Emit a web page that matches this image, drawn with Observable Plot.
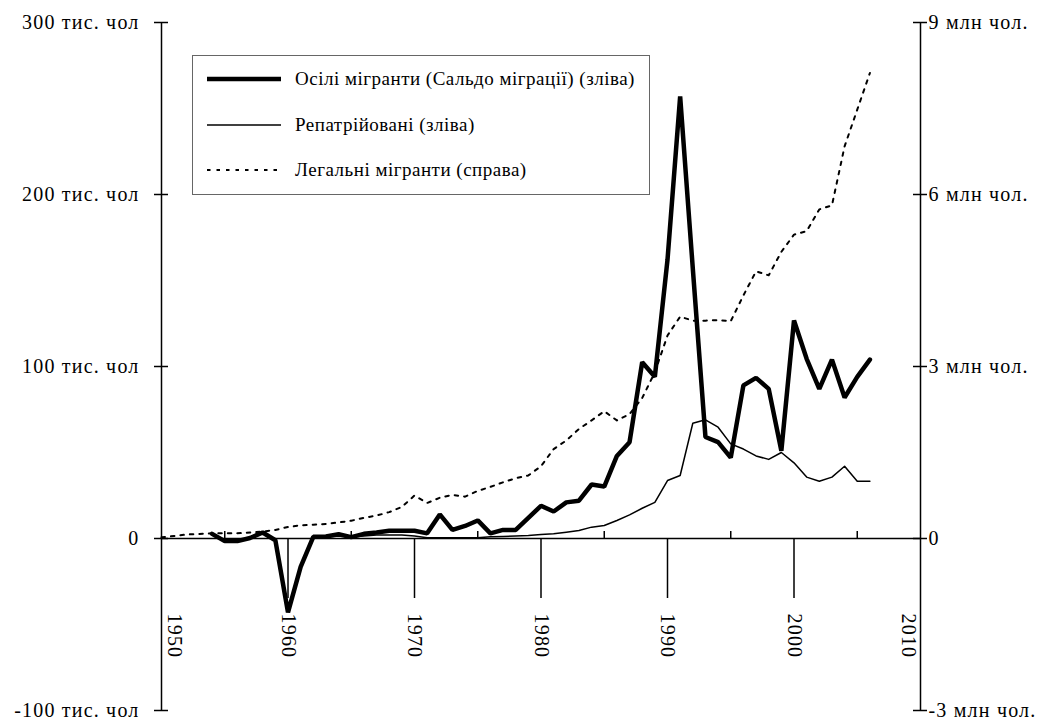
<!DOCTYPE html>
<html>
<head>
<meta charset="utf-8">
<script src="https://cdn.jsdelivr.net/npm/d3@7"></script>
<script src="https://cdn.jsdelivr.net/npm/@observablehq/plot@0.6"></script>
<style>
  body { margin: 0; background: #fff; }
  #wrap { position: relative; width: 1047px; height: 720px; }
  #wrap > svg text { letter-spacing: 1.2px; }
  #legend { position: absolute; left: 192px; top: 55px; width: 458px; height: 140px; border: 1px solid #666; background: #fff; box-sizing: border-box; }
  .row { position: absolute; left: 0; width: 100%; height: 24px; }
  .row svg { position: absolute; left: 13px; top: 0; }
  .row span { position: absolute; left: 102px; top: 0; line-height: 24px; font-size: 19px; letter-spacing: 0.5px; color: #000; white-space: nowrap; font-family: "Liberation Serif", "Times New Roman", serif; }
</style>
</head>
<body>
<div id="wrap"></div>
<script>
// ---- data ----
const years = [1950,1951,1952,1953,1954,1955,1956,1957,1958,1959,
  1960,1961,1962,1963,1964,1965,1966,1967,1968,1969,
  1970,1971,1972,1973,1974,1975,1976,1977,1978,1979,
  1980,1981,1982,1983,1984,1985,1986,1987,1988,1989,
  1990,1991,1992,1993,1994,1995,1996,1997,1998,1999,
  2000,2001,2002,2003,2004,2005,2006];

// Осілі мігранти (сальдо міграції), тис. чол (ліва вісь)
const settled = [null,null,null,null,2.7,-1.5,-1.5,0.3,3.5,-1,
  -43,-16.5,1,1.2,2.5,0.8,2.7,3.5,4.5,4.5,
  4.5,3,14,5,7.3,10.5,3,5,5,12,
  19,15.7,21,22,31.4,30.2,48,56,102.5,94,
  162,257,157,59,56,47,89,93.4,87,51,
  126.7,104.5,87,104,82,94,104];

// Репатрійовані, тис. чол (ліва вісь)
const repatriated = [null,null,null,null,null,null,null,null,null,null,
  null,null,0.5,1,1.5,1,1.5,2,2,2,
  1.5,0.5,0.5,0.5,0.5,0.5,1,1.2,1.5,1.8,
  2.3,2.7,3.7,4.7,6.6,7.6,10.5,13.7,17.6,21,
  33.7,36.6,67,69,64.7,55,52,48,46,50,
  44,35.7,33.3,35.7,42,33.3,33.3];

// Легальні мігранти, млн чол (права вісь)
const legal = [0.02,0.045,0.07,0.08,0.09,0.09,0.09,0.105,0.12,0.15,
  0.2,0.23,0.24,0.255,0.28,0.31,0.36,0.40,0.46,0.55,
  0.75,0.62,0.71,0.76,0.73,0.83,0.90,0.98,1.05,1.10,
  1.26,1.56,1.71,1.91,2.06,2.22,2.06,2.17,2.45,2.9,
  3.54,3.87,3.80,3.80,3.81,3.79,4.24,4.66,4.59,5.00,
  5.30,5.36,5.74,5.81,6.84,7.48,8.12];

const leftTicks = [300, 200, 100, 0, -100];
const leftLabels = ["300 тис. чол", "200 тис. чол", "100 тис. чол", "0", "-100 тис. чол"];
const rightTicks = [9, 6, 3, 0, -3];
const rightLabels = ["9 млн чол.", "6 млн чол.", "3 млн чол.", "0", "-3 млн чол."];
const majorYears = [1950, 1960, 1970, 1980, 1990, 2000, 2010];
const minorYears = [1955, 1965, 1975, 1985, 1995, 2005];

const legendItems = [
  {label: "Осілі мігранти (Сальдо міграції) (зліва)", width: 4.5, dash: null},
  {label: "Репатрійовані (зліва)", width: 1.5, dash: null},
  {label: "Легальні мігранти (справа)", width: 2, dash: "3.5,6"}
];

// ---- build tables ----
const ratio = 1000 / 30; // 1 млн на правій осі = 33.3 тис. на лівій
const settledData = years.map((y, i) => ({year: y, v: settled[i]})).filter(d => d.v != null);
const repatData = years.map((y, i) => ({year: y, v: repatriated[i]})).filter(d => d.v != null);
const legalData = years.map((y, i) => ({year: y, v: legal[i] * ratio}));
const leftT = leftTicks.map((t, i) => ({t, label: leftLabels[i]}));
const rightT = rightTicks.map((t, i) => ({t: t * ratio, label: rightLabels[i]}));
const midYears = majorYears.slice(1, -1);

const serif = "'Liberation Serif', 'Times New Roman', serif";
const chart = Plot.plot({
  width: 1047,
  height: 720,
  marginLeft: 161,
  marginRight: 127,
  marginTop: 22,
  marginBottom: 10,
  style: {fontFamily: serif, fontSize: "20px", background: "#fff", color: "#000"},
  x: {domain: [1950, 2010], axis: null},
  y: {domain: [-100, 300], axis: null},
  marks: [
    // axes lines
    Plot.ruleX([1950, 2010], {stroke: "#000", strokeWidth: 1.5}),
    Plot.ruleY([0], {stroke: "#000", strokeWidth: 1.5}),
    // y ticks (crossing)
    Plot.ruleY(leftT, {y: "t", x1: 1950, x2: 1950, insetLeft: -7, insetRight: -7, stroke: "#000", strokeWidth: 1.5}),
    Plot.ruleY(rightT, {y: "t", x1: 2010, x2: 2010, insetLeft: -7, insetRight: -7, stroke: "#000", strokeWidth: 1.5}),
    // x ticks
    Plot.ruleX(minorYears, {y1: 0, y2: 0, insetTop: -7, stroke: "#000", strokeWidth: 1.5}),
    Plot.ruleX(midYears, {y1: 0, y2: 0, insetBottom: -60, stroke: "#000", strokeWidth: 1.5}),
    // y labels
    Plot.text(leftT, {x: 1950, y: "t", text: "label", textAnchor: "end", dx: -22, fill: "#000", fontFamily: serif}),
    Plot.text(rightT, {x: 2010, y: "t", text: "label", textAnchor: "start", dx: 8, fill: "#000", fontFamily: serif}),
    // x labels
    Plot.text(midYears, {x: d => d, y: 0, text: d => String(d), rotate: 90, textAnchor: "start", dy: 75, fill: "#000", fontFamily: serif}),
    Plot.text([majorYears[0]], {x: d => d, y: 0, text: d => String(d), rotate: 90, textAnchor: "start", dy: 75, dx: 13, fill: "#000", fontFamily: serif}),
    Plot.text([majorYears[majorYears.length - 1]], {x: d => d, y: 0, text: d => String(d), rotate: 90, textAnchor: "start", dy: 75, dx: -12, fill: "#000", fontFamily: serif}),
    // series
    Plot.line(legalData, {x: "year", y: "v", stroke: "#000", strokeWidth: 2, strokeDasharray: "3.5,6"}),
    Plot.line(repatData, {x: "year", y: "v", stroke: "#000", strokeWidth: 1.5}),
    Plot.line(settledData, {x: "year", y: "v", stroke: "#000", strokeWidth: 4.5, strokeLinejoin: "miter"})
  ]
});

const wrap = document.getElementById("wrap");
wrap.appendChild(chart);

// legend (overlay inside the plot area)
const legend = document.createElement("div");
legend.id = "legend";
const rowTops = [11, 57, 102];
legendItems.forEach((item, i) => {
  const row = document.createElement("div");
  row.className = "row";
  row.style.top = rowTops[i] + "px";
  const svgNS = "http://www.w3.org/2000/svg";
  const svg = document.createElementNS(svgNS, "svg");
  svg.setAttribute("width", 76);
  svg.setAttribute("height", 24);
  const ln = document.createElementNS(svgNS, "line");
  ln.setAttribute("x1", 1); ln.setAttribute("x2", 75);
  ln.setAttribute("y1", 12); ln.setAttribute("y2", 12);
  ln.setAttribute("stroke", "#000");
  ln.setAttribute("stroke-width", item.width);
  if (item.dash) ln.setAttribute("stroke-dasharray", item.dash);
  svg.appendChild(ln);
  const span = document.createElement("span");
  span.textContent = item.label;
  row.appendChild(svg);
  row.appendChild(span);
  legend.appendChild(row);
});
wrap.appendChild(legend);
</script>
</body>
</html>
